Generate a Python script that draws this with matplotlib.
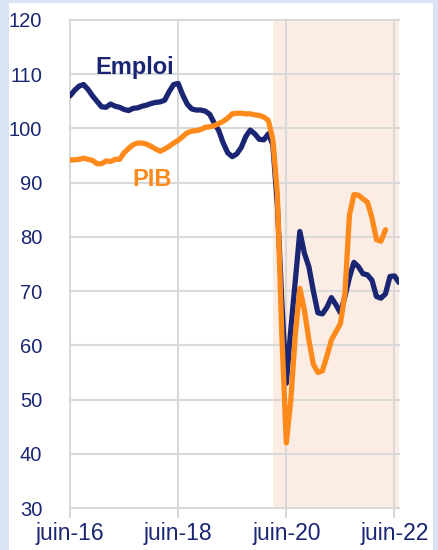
import matplotlib.pyplot as plt

# monthly index, 0 = juin-16
emploi = [106.0, 107.0, 107.8, 108.1, 107.2, 106.0, 105.0, 104.0, 103.9, 104.5,
          104.1, 103.9, 103.5, 103.3, 103.7, 103.8, 104.1, 104.3, 104.6, 104.8,
          104.9, 105.2, 106.8, 108.1, 108.3, 106.2, 104.5, 103.6, 103.4, 103.4,
          103.2, 102.6, 101.0, 99.6, 97.3, 95.5, 94.8, 95.3, 96.5, 98.5,
          99.7, 99.0, 98.0, 97.9, 99.0, 97.0, 86.0, 68.0, 53.0, 63.0,
          72.0, 81.0, 77.0, 74.5, 70.0, 66.0, 65.8, 67.0, 68.8, 67.5,
          66.0, 69.0, 72.5, 75.3, 74.5, 73.2, 73.0, 72.0, 69.0, 68.7,
          69.5, 72.7, 72.8, 71.6]

pib = [94.2, 94.2, 94.3, 94.5, 94.3, 94.1, 93.5, 93.5, 94.0, 93.9,
       94.3, 94.3, 95.5, 96.3, 97.0, 97.3, 97.3, 97.1, 96.7, 96.2,
       95.8, 96.2, 96.7, 97.3, 97.8, 98.5, 99.2, 99.5, 99.6, 99.8,
       100.2, 100.3, 100.5, 100.9, 101.3, 101.9, 102.7, 102.8, 102.8, 102.7,
       102.7, 102.5, 102.4, 102.1, 101.5, 98.0, 88.0, 62.0, 42.0, 50.0,
       62.0, 70.5, 66.5, 61.0, 56.5, 55.0, 55.3, 58.0, 61.0, 62.5,
       64.0, 69.5, 84.0, 87.8, 87.7, 87.0, 86.4, 83.5, 79.5, 79.2,
       81.3]

tick_pos = [0, 24, 48, 72]
tick_labels = ["juin-16", "juin-18", "juin-20", "juin-22"]
covid_start = 45

NAVY = "#1a2674"
ORANGE = "#ff8a1c"
GRID = "#d9d9d9"

plt.rcParams["font.family"] = ["Liberation Sans", "DejaVu Sans"]

fig = plt.figure(figsize=(4.38, 5.5), dpi=100)
fig.patch.set_facecolor("#dae3f3")

# white panel behind the chart
bg = fig.add_axes([9 / 438, 0, 424 / 438, 547 / 550])
bg.set_facecolor("white")
bg.set_xticks([])
bg.set_yticks([])
for s in bg.spines.values():
    s.set_visible(False)
bg.set_zorder(0)

ax = fig.add_axes([70 / 438, 1 - 508 / 550, 329 / 438, 488 / 550])
ax.set_zorder(1)
ax.set_facecolor("none")

ax.axvspan(covid_start, 73, color="#fcede4", zorder=0, lw=0)

ax.plot(range(len(emploi)), emploi, color=NAVY, lw=3.8, zorder=3,
        solid_joinstyle="round", solid_capstyle="round")
ax.plot(range(len(pib)), pib, color=ORANGE, lw=3.8, zorder=4,
        solid_joinstyle="round", solid_capstyle="round")

ax.text(14.4, 111.3, "Emploi", color=NAVY, fontsize=17, fontweight="bold",
        ha="center", va="center")
ax.text(18.2, 90.5, "PIB", color=ORANGE, fontsize=17, fontweight="bold",
        ha="center", va="center")

ax.set_xlim(0, 73)
ax.set_ylim(30, 120)
ax.set_yticks(range(30, 121, 10))
ax.set_xticks(tick_pos)
ax.set_xticklabels(tick_labels)

for y in range(30, 121, 10):
    ax.axhline(y, color=GRID, lw=1.5, zorder=1, clip_on=False)
for x in tick_pos:
    ax.axvline(x, color=GRID, lw=1.5, zorder=1, clip_on=False)

for s in ax.spines.values():
    s.set_visible(False)

ax.tick_params(axis="y", length=0, pad=20, labelsize=14.5, labelcolor=NAVY)
ax.tick_params(axis="x", length=7, width=1.5, color=GRID, pad=3,
               labelsize=16.5, labelcolor=NAVY)

fig.savefig("out.png", dpi=100)
